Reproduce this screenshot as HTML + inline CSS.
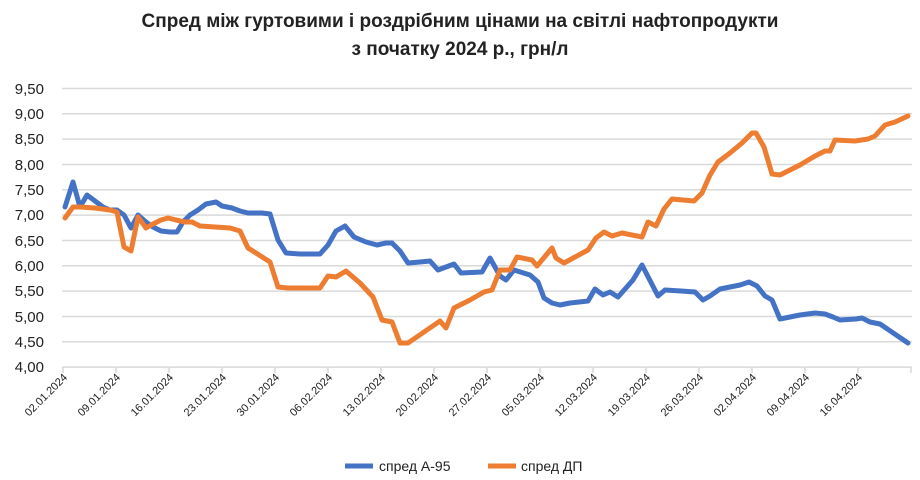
<!DOCTYPE html>
<html><head><meta charset="utf-8"><style>
body{margin:0;background:#fff;}
svg{display:block;font-family:"Liberation Sans","DejaVu Sans",sans-serif;}
</style></head><body>
<svg width="920" height="480" viewBox="0 0 920 480">
<rect width="920" height="480" fill="#fff"/>
<text x="460" y="27" text-anchor="middle" font-size="19" font-weight="bold" fill="#222">Спред між гуртовими і роздрібним цінами на світлі нафтопродукти</text>
<text x="460" y="55" text-anchor="middle" font-size="19" font-weight="bold" fill="#222">з початку 2024 р., грн/л</text>
<g stroke="#d9d9d9" stroke-width="1.5">
<line x1="62" x2="912" y1="88.5" y2="88.5"/><line x1="62" x2="912" y1="113.8" y2="113.8"/>
<line x1="62" x2="912" y1="139.1" y2="139.1"/><line x1="62" x2="912" y1="164.5" y2="164.5"/>
<line x1="62" x2="912" y1="189.8" y2="189.8"/><line x1="62" x2="912" y1="215.1" y2="215.1"/>
<line x1="62" x2="912" y1="240.5" y2="240.5"/><line x1="62" x2="912" y1="265.8" y2="265.8"/>
<line x1="62" x2="912" y1="291.1" y2="291.1"/><line x1="62" x2="912" y1="316.5" y2="316.5"/>
<line x1="62" x2="912" y1="341.8" y2="341.8"/><line x1="62" x2="912" y1="367.1" y2="367.1"/>
</g>
<g stroke="#d9d9d9" stroke-width="1.5">
<line x1="63" x2="63" y1="367" y2="373"/><line x1="116" x2="116" y1="367" y2="373"/><line x1="169" x2="169" y1="367" y2="373"/><line x1="222" x2="222" y1="367" y2="373"/><line x1="275" x2="275" y1="367" y2="373"/><line x1="328" x2="328" y1="367" y2="373"/><line x1="381" x2="381" y1="367" y2="373"/><line x1="434" x2="434" y1="367" y2="373"/><line x1="487" x2="487" y1="367" y2="373"/><line x1="540" x2="540" y1="367" y2="373"/><line x1="593" x2="593" y1="367" y2="373"/><line x1="646" x2="646" y1="367" y2="373"/><line x1="699" x2="699" y1="367" y2="373"/><line x1="752" x2="752" y1="367" y2="373"/><line x1="805" x2="805" y1="367" y2="373"/><line x1="858" x2="858" y1="367" y2="373"/><line x1="911" x2="911" y1="367" y2="373"/>
</g>
<g font-size="15" fill="#222" text-anchor="end">
<text x="44" y="94">9,50</text><text x="44" y="119">9,00</text><text x="44" y="144">8,50</text><text x="44" y="170">8,00</text><text x="44" y="195">7,50</text><text x="44" y="220">7,00</text><text x="44" y="246">6,50</text><text x="44" y="271">6,00</text><text x="44" y="296">5,50</text><text x="44" y="322">5,00</text><text x="44" y="347">4,50</text><text x="44" y="372">4,00</text>
</g>
<g font-size="11" fill="#222" text-anchor="end">
<text transform="translate(68,378) rotate(-45)">02.01.2024</text>
<text transform="translate(121,378) rotate(-45)">09.01.2024</text>
<text transform="translate(174,378) rotate(-45)">16.01.2024</text>
<text transform="translate(227,378) rotate(-45)">23.01.2024</text>
<text transform="translate(280,378) rotate(-45)">30.01.2024</text>
<text transform="translate(333,378) rotate(-45)">06.02.2024</text>
<text transform="translate(386,378) rotate(-45)">13.02.2024</text>
<text transform="translate(439,378) rotate(-45)">20.02.2024</text>
<text transform="translate(492,378) rotate(-45)">27.02.2024</text>
<text transform="translate(545,378) rotate(-45)">05.03.2024</text>
<text transform="translate(598,378) rotate(-45)">12.03.2024</text>
<text transform="translate(651,378) rotate(-45)">19.03.2024</text>
<text transform="translate(704,378) rotate(-45)">26.03.2024</text>
<text transform="translate(757,378) rotate(-45)">02.04.2024</text>
<text transform="translate(810,378) rotate(-45)">09.04.2024</text>
<text transform="translate(863,378) rotate(-45)">16.04.2024</text>
</g>
<g fill="none" stroke-width="5" stroke-linejoin="round" stroke-linecap="round">
<polyline stroke="#4472c4" points="65,207 73,182 80,207 87,195 95,201 103,207 110,210 117,210 124,215 131,228 138,215 146,222 153,227 161,231 170,232 177,232 183,222 190,215 198,210 206,204 216,202 222,206 232,208 240,211 248,213 262,213 270,214 278,240 286,253 300,254 320,254 328,245 336,231 345,226 354,237 366,242 377,245 386,243 392,243 400,251 408,263 420,262 430,261 438,270 446,267 454,264 461,273 482,272 490,258 500,276 506,280 514,270 530,275 538,282 544,298 552,303 560,305 570,303 588,301 595,289 603,295 610,292 618,297 633,280 642,265 658,296 665,290 681,291 695,292 703,300 710,296 720,289 740,285 749,282 757,286 765,296 772,300 780,319 800,315 815,313 825,314 833,317 840,320 856,319 862,318 870,322 880,324 908,343"/>
<polyline stroke="#ed7d31" points="65,218 73,207 80,207 95,208 110,210 117,212 124,247 131,251 138,217 146,228 153,224 161,220 168,218 176,220 185,222 192,222 200,226 215,227 230,228 240,231 248,248 256,253 270,262 278,287 288,288 320,288 328,276 336,277 346,271 360,283 373,297 382,320 392,322 400,343 408,343 440,321 446,328 454,308 470,300 484,292 492,290 500,270 510,270 517,257 532,260 537,266 552,248 556,258 564,263 588,250 596,238 604,232 612,236 622,233 642,237 648,222 656,226 664,209 672,199 694,201 702,193 710,175 718,162 730,153 742,143 752,133 756,133 764,147 772,174 780,175 800,165 815,156 825,151 830,151 835,140 855,141 868,139 875,136 885,125 895,122 908,116"/>
</g>
<line x1="345" x2="373" y1="466" y2="466" stroke="#4472c4" stroke-width="5"/>
<text x="379" y="471" font-size="14" fill="#222">спред А-95</text>
<line x1="488" x2="516" y1="466" y2="466" stroke="#ed7d31" stroke-width="5"/>
<text x="521" y="471" font-size="14" fill="#222">спред ДП</text>
</svg>
</body></html>
